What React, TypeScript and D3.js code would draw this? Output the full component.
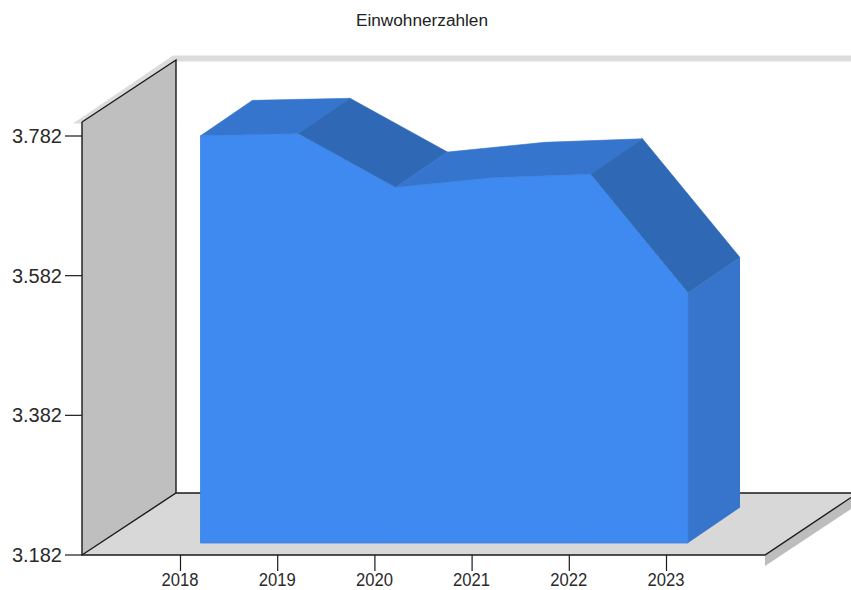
import React from "react";
import * as d3 from "d3";

const years = ["2018", "2019", "2020", "2021", "2022", "2023"];
const population = [3765, 3768, 3691, 3705, 3710, 3540];
const yTicks = [3182, 3382, 3582, 3782];
const tickLabels = ["3.182", "3.382", "3.582", "3.782"];
const title = "Einwohnerzahlen";

const FONT = "'Liberation Sans', Arial, sans-serif";

export default function App() {
  const y = d3.scaleLinear().domain([3182, 3782]).range([555, 136]);
  const xTick = d3.scalePoint<string>().domain(years).range([180.5, 666.5]);
  const xArea = d3.scalePoint<string>().domain(years).range([200.5, 688]);
  const areaDx = 52, areaDy = -35.5, frontDy = -12;
  const baseY = y(3182) + frontDy;

  const front = population.map((v, i) => [xArea(years[i])!, y(v) + frontDy] as [number, number]);
  const back = front.map(([a, b]) => [a + areaDx, b + areaDy] as [number, number]);
  const line = d3.line();
  const frontPath = d3
    .area<[number, number]>()
    .x((d) => d[0])
    .y1((d) => d[1])
    .y0(baseY)(front)!;

  // Neighbouring top faces with the same slope direction form one flat-shaded ribbon.
  const isFalling = (i: number) => front[i + 1][1] > front[i][1] + 8;
  const runs: { start: number; end: number; falling: boolean }[] = [];
  for (let i = 0; i < front.length - 1; i++) {
    const last = runs[runs.length - 1];
    if (last && last.falling === isFalling(i)) last.end = i + 1;
    else runs.push({ start: i, end: i + 1, falling: isFalling(i) });
  }

  const wallDx = 94, wallDy = -62;
  const x0 = 82, x1 = 765, yb = y(3182);
  const yTop = y(3782) - 14;

  return (
    <svg
      width={851}
      height={590}
      viewBox="0 0 851 590"
      style={{ position: "absolute", left: 0, top: 0, background: "#fff" }}
      fontFamily={FONT}
    >
      <text x={422} y={25.5} fontSize={16} textAnchor="middle" fill="#222" textLength={132} lengthAdjust="spacingAndGlyphs">
        {title}
      </text>

      {/* back-wall and left-wall top strip */}
      <path d={line([[x0 - 9, yTop + 1.5], [x0, yTop + 1.5], [x0 + wallDx, yTop + wallDy + 1.5], [851, yTop + wallDy + 1.5], [851, yTop + wallDy - 4.5], [x0 + wallDx - 3, yTop + wallDy - 4.5]])! + "Z"} fill="#dcdcdc" />
      {/* left wall */}
      <path d={line([[x0, yb], [x0, yTop], [x0 + wallDx, yTop + wallDy], [x0 + wallDx, yb + wallDy]])! + "Z"} fill="#bfbfbf" />
      {/* floor */}
      <path d={line([[x0, yb], [x0 + wallDx, yb + wallDy], [851, yb + wallDy], [851, yb + wallDy + 4], [x1, yb]])! + "Z"} fill="#d8d8d8" />
      {/* floor shadow */}
      <path d={line([[x1, yb], [851, yb + wallDy + 5], [851, yb + wallDy + 16], [x1, yb + 11]])! + "Z"} fill="#bdbdbd" />

      {/* frame lines */}
      <g stroke="#1a1a1a" strokeWidth={1.4} fill="none">
        <path d={line([[x0, yTop], [x0, yb], [x1, yb], [851, yb + wallDy + 4.5]])!} />
        <path d={line([[x0, yb], [x0 + wallDx, yb + wallDy], [851, yb + wallDy]])!} />
        <path d={line([[x0 + wallDx, yb + wallDy], [x0 + wallDx, yTop + wallDy], [x0, yTop]])!} />
      </g>

      {/* y axis */}
      {yTicks.map((t, i) => (
        <g key={t}>
          <line x1={65} x2={x0} y1={y(t)} y2={y(t)} stroke="#1a1a1a" strokeWidth={1.2} />
          <text x={62} y={y(t) + 7} fontSize={20} textAnchor="end" fill="#2a2a2a">
            {tickLabels[i]}
          </text>
        </g>
      ))}

      {/* x axis */}
      {years.map((yr) => (
        <g key={yr}>
          <line x1={xTick(yr)} x2={xTick(yr)} y1={yb} y2={yb + 16} stroke="#1a1a1a" strokeWidth={1.2} />
          <text x={xTick(yr)! - 0.5} y={586} fontSize={18} textAnchor="middle" fill="#2a2a2a" textLength={37} lengthAdjust="spacingAndGlyphs">
            {yr}
          </text>
        </g>
      ))}

      {/* 3D area: right end cap */}
      <path
        d={line([front[5], back[5], [back[5][0], baseY + areaDy], [front[5][0], baseY]])! + "Z"}
        fill="#3775cc"
      />
      {/* 3D area: top faces */}
      {runs.map((r) => {
        const c = r.falling ? "#2f69b5" : "#3575cd";
        const f = front.slice(r.start, r.end + 1);
        const b = back.slice(r.start, r.end + 1).reverse();
        return (
          <path
            key={years[r.start]}
            d={line([...f, ...b])! + "Z"}
            fill={c}
            stroke={c}
            strokeWidth={0.6}
          />
        );
      })}
      {/* 3D area: front face */}
      <path d={frontPath} fill="#3f8af0" stroke="#3b80de" strokeWidth={0.8} />
    </svg>
  );
}
